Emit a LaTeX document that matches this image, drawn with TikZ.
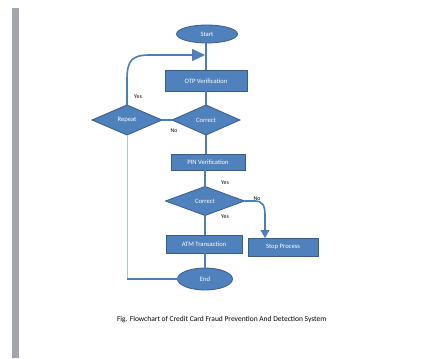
\documentclass[tikz,border=0pt]{standalone}
\usepackage{fontspec}
\setmainfont{Carlito}
\usetikzlibrary{shapes.geometric,arrows.meta}
\definecolor{boxfill}{HTML}{4F81BD}
\definecolor{boxline}{HTML}{385D8A}
\definecolor{conn}{HTML}{4A7EBB}
\definecolor{paleconn}{HTML}{A9C4E8}
\definecolor{bargray}{HTML}{A2A6AB}
\tikzset{
  every node/.style={inner sep=0pt, outer sep=0pt},
  nodefont/.style={font=\fontsize{6.6}{7}\selectfont},
  procbox/.style={rectangle, draw=boxline, fill=boxfill, line width=0.8pt, text=white, nodefont},
  termnode/.style={ellipse, draw=boxline, fill=boxfill, line width=0.8pt, text=white, nodefont},
  decision/.style={diamond, draw=boxline, fill=boxfill, line width=0.8pt, text=white, nodefont, aspect=2.3},
  flow/.style={draw=conn, line width=1.6pt},
  lbl/.style={font=\fontsize{5.8}{7}\selectfont, text=black},
}
\begin{document}
\begin{tikzpicture}[x=1pt, y=-1pt]
\useasboundingbox (0,0) rectangle (427,358);
\fill[white] (0,0) rectangle (427,358);
\fill[bargray] (12,8) rectangle (19,358);

% nodes
\node[termnode, minimum width=61pt, minimum height=18pt] (start) at (207,34) {Start};
\node[procbox, minimum width=82pt, minimum height=21pt] (otp) at (206,81) {OTP Verification};
\node[decision, minimum width=68pt, minimum height=30pt] (c1) at (206,120) {Correct};
\node[decision, minimum width=70pt, minimum height=30pt] (rep) at (127,120) {Repeat};
\node[procbox, minimum width=74pt, minimum height=16pt] (pin) at (208,162) {PIN Verification};
\node[decision, minimum width=79pt, minimum height=29pt] (c2) at (205,201) {Correct};
\node[procbox, minimum width=76pt, minimum height=18pt] (atm) at (204,244) {ATM Transaction};
\node[procbox, minimum width=70pt, minimum height=18pt] (stop) at (283,247) {Stop Process};
\node[termnode, minimum width=55pt, minimum height=22pt] (end) at (205,279) {End};

\coordinate (merge) at (205,55);
\coordinate (endcorner) at (127,279);

% connectors
\draw[flow] (start.south -| 206,0) -- (otp.north -| 206,0);
\draw[flow] (otp.south -| 206,0) -- (c1.north -| 206,0);
\draw[flow] (c1.south -| 206,0) -- (pin.north -| 206,0);
\draw[flow] (pin.south -| 205,0) -- (c2.north);
\draw[flow] (c2.south) -- (atm.north -| 205,0);
\draw[flow] (atm.south -| 205,0) -- (end.north);
\draw[flow] (c1.west) -- (rep.east);
\draw[flow, -{Triangle[width=12pt,length=13pt,fill=boxfill,line width=0.8pt]}]
  (rep.north) -- (127,80) .. controls (127,60) and (132,55) .. (150,55) -- (merge);
\draw[flow, -{Triangle[width=9pt,length=8pt,fill=boxfill,line width=0.8pt]}]
  (c2.east) -- (255,201) .. controls (262,201) and (265,205) .. (265,215) -- (stop.north -| 265,0);
\draw[draw=paleconn, line width=1pt] (rep.south) -- (endcorner);
\draw[flow] (endcorner) -- (end.west);

% labels
\node[lbl] (yes1) at (138,97) {Yes};
\node[lbl] (no1) at (174,131) {No};
\node[lbl] (yes2) at (225,183) {Yes};
\node[lbl] (yes3) at (225,217) {Yes};
\node[lbl] (no2) at (257,199) {No};

% caption
\node[anchor=west, font=\fontsize{7.5}{8}\selectfont] (cap) at (117,320) {Fig. Flowchart of Credit Card Fraud Prevention And Detection System};
\end{tikzpicture}
\end{document}
